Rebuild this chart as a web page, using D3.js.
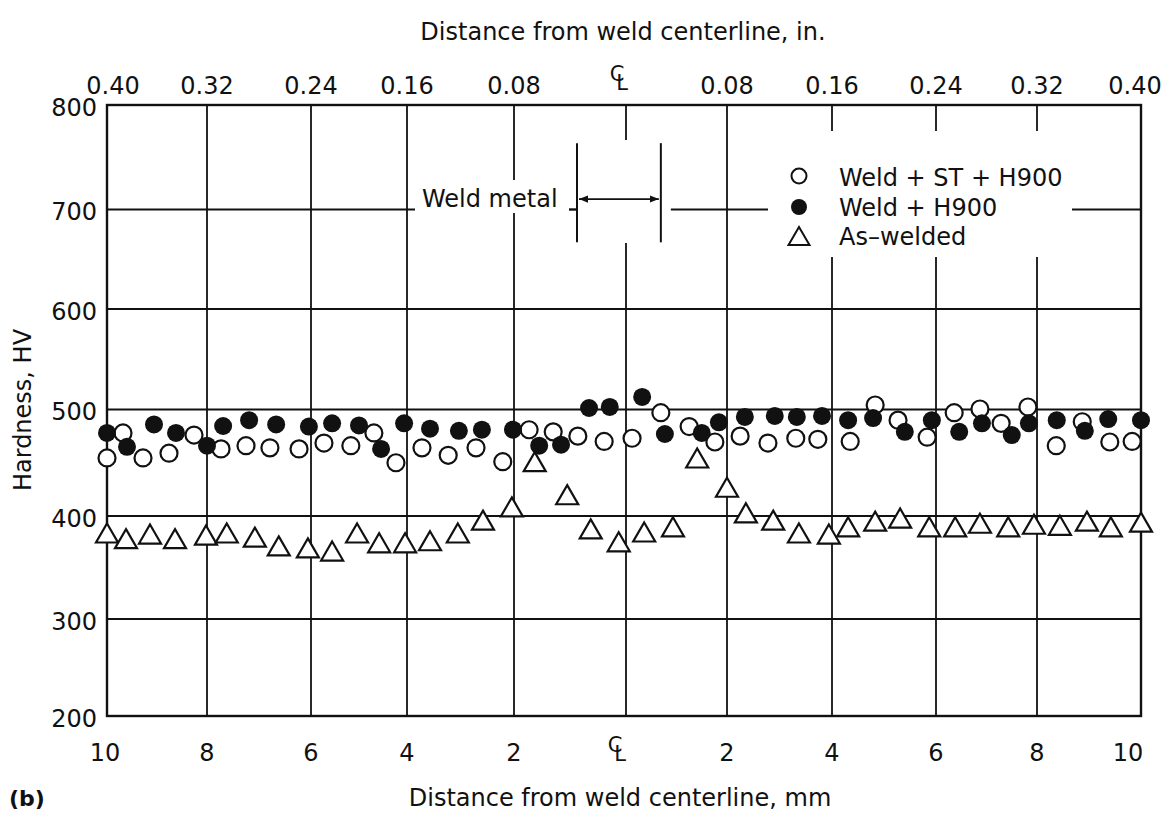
<!DOCTYPE html>
<html><head><meta charset="utf-8">
<script src="https://cdn.jsdelivr.net/npm/d3@7/dist/d3.min.js"></script>
<style>
body{margin:0;background:#fff}
text{font-family:"DejaVu Sans","Liberation Sans",Arial,sans-serif;fill:#111}
</style>
</head><body>
<svg id="c" width="1170" height="813"></svg>
<script>
// ---- data (distance from weld centerline in mm; negative = left side; hardness HV) ----
const stH900X = [-10.0,-9.68,-9.28,-8.76,-8.26,-7.73,-7.25,-6.79,-6.23,-5.73,-5.17,-4.69,-4.23,-3.72,-3.23,-2.71,-2.21,-1.73,-1.3,-0.86,-0.39,0.12,0.69,1.25,1.76,2.25,2.78,3.31,3.73,4.35,4.83,5.27,5.83,6.36,6.87,7.29,7.82,8.37,8.87,9.4,9.83];
const stH900Y = [454.5,478,454.5,459,476,463,466,464,463,468.5,466,478,450,464,457,464,451,481,479,475,470,473,497,484,469.5,475,468.5,473,472,470,504.5,490,474,497,500.5,487,502.5,466,488.5,469.5,470];

const h900X = [-10.0,-9.6,-9.06,-8.62,-8.0,-7.69,-7.19,-6.67,-6.04,-5.56,-5.0,-4.54,-4.06,-3.57,-3.03,-2.6,-2.02,-1.55,-1.16,-0.66,-0.29,0.32,0.77,1.5,1.84,2.34,2.91,3.33,3.81,4.31,4.79,5.4,5.92,6.46,6.91,7.5,7.84,8.38,8.92,9.37,10.0];
const h900Y = [478,465,486,478,466,484.5,490,486,484,487,485,463,487,482,480,481,481,466,467,501.5,502.5,512.5,477,478,488,493,494,493,494,490,492,479,490,479,487,476,487,490,480,491,490];

const asWeldX = [-10.0,-9.62,-9.14,-8.64,-8.02,-7.62,-7.08,-6.62,-6.06,-5.56,-5.04,-4.58,-4.04,-3.57,-3.05,-2.58,-2.04,-1.63,-1.05,-0.63,-0.13,0.36,0.93,1.41,2.0,2.36,2.88,3.37,3.94,4.31,4.83,5.31,5.87,6.38,6.87,7.43,7.94,8.44,8.96,9.42,10.0];
const asWeldY = [383.5,378,382.5,378,381.5,383.5,379.5,371,369,366,383.5,374,374,376,383.5,396,408.5,451,420,387.5,375,384.5,389.5,454.5,427,403,396,383.5,382.5,389.5,395,398,389.5,389.5,393,389.5,392,391,395,389.5,394];

const mmTicks = [-10,-8,-6,-4,-2,0,2,4,6,8,10];
const mmLabels = ["10","8","6","4","2","CL","2","4","6","8","10"];
const inLabels = ["0.40","0.32","0.24","0.16","0.08","CL","0.08","0.16","0.24","0.32","0.40"];
const hvTicks = [200,300,400,500,600,700,800];
const seriesNames = ["Weld + ST + H900","Weld + H900","As\u2013welded"];
const weldMetal = [-0.875, 0.69];

// ---- chart ----
const svg = d3.select("#c");
// the printed grid is hand-drawn and slightly uneven: piecewise-linear scales follow it
const x = d3.scaleLinear().domain(mmTicks).range([107,207,311,407,514,626,727,832,936,1037,1141]);
const y = d3.scaleLinear().domain(hvTicks).range([716,619,516,409.5,309,209.5,105]);
const INK = "#111";
const FS = 24;

// gridlines
svg.append("g").selectAll("line").data(mmTicks.slice(1,-1)).join("line")
  .attr("x1",d=>x(d)).attr("x2",d=>x(d)).attr("y1",y(800)).attr("y2",y(200))
  .attr("stroke",INK).attr("stroke-width",1.8);
svg.append("g").selectAll("line").data(hvTicks.slice(1,-1)).join("line")
  .attr("x1",x(-10)).attr("x2",x(10)).attr("y1",d=>y(d)).attr("y2",d=>y(d))
  .attr("stroke",INK).attr("stroke-width",1.8);

// white gaps (label + annotation + legend areas)
svg.append("rect").attr("x",415).attr("y",180).attr("width",154).attr("height",33).attr("fill","#fff");
svg.append("rect").attr("x",x(weldMetal[0])+1).attr("y",140).attr("width",x(weldMetal[1])-x(weldMetal[0])+9).attr("height",103).attr("fill","#fff");
svg.append("rect").attr("x",768).attr("y",131).attr("width",304).attr("height",126).attr("fill","#fff");

// border
svg.append("rect").attr("x",x(-10)).attr("y",y(800)).attr("width",x(10)-x(-10)).attr("height",y(200)-y(800))
  .attr("fill","none").attr("stroke",INK).attr("stroke-width",2.4);

// y axis labels
svg.append("g").selectAll("text").data(hvTicks).join("text")
  .attr("x",97).attr("y",d=>y(d)+2).attr("dy","0.36em").attr("text-anchor","end")
  .attr("font-size",FS).text(d=>d);
svg.append("text").attr("transform","translate(31,410) rotate(-90)").attr("text-anchor","middle")
  .attr("font-size",FS).text("Hardness, HV");

function clMark(g, cx, cy){
  g.append("text").attr("x",cx-3).attr("y",cy-5).attr("text-anchor","middle").attr("dy","0.36em").attr("font-size",21).text("C");
  g.append("text").attr("x",cx+2).attr("y",cy+4).attr("text-anchor","middle").attr("dy","0.36em").attr("font-size",21).text("L");
}

// bottom labels
const gb = svg.append("g");
mmTicks.forEach((d,i)=>{
  let cx = x(d);
  if (i===mmTicks.length-1) cx -= 13;
  if (i===0) cx -= 2;
  if (mmLabels[i]==="CL") clMark(gb, cx-8, 749);
  else gb.append("text").attr("x",cx).attr("y",752).attr("dy","0.36em")
    .attr("text-anchor","middle").attr("font-size",FS).text(mmLabels[i]);
});
svg.append("text").attr("x",620).attr("y",797).attr("dy","0.36em").attr("text-anchor","middle")
  .attr("font-size",FS).text("Distance from weld centerline, mm");
svg.append("text").attr("x",9).attr("y",798).attr("dy","0.36em").attr("font-size",FS-2)
  .attr("font-weight","bold").text("(b)");

// top labels
const gt = svg.append("g");
mmTicks.forEach((d,i)=>{
  let cx = x(d);
  if (i===0) cx += 6;
  if (i===mmTicks.length-1) cx -= 6;
  if (inLabels[i]==="CL") clMark(gt, cx-6, 78);
  else gt.append("text").attr("x",cx).attr("y",85).attr("dy","0.36em")
    .attr("text-anchor","middle").attr("font-size",FS).text(inLabels[i]);
});
svg.append("text").attr("x",623).attr("y",31).attr("dy","0.36em").attr("text-anchor","middle")
  .attr("font-size",FS).text("Distance from weld centerline, in.");

// weld metal annotation
const ga = svg.append("g");
const defs = svg.append("defs");
defs.append("marker").attr("id","ah").attr("viewBox","0 0 10 10").attr("refX",10).attr("refY",5)
  .attr("markerWidth",5).attr("markerHeight",5).attr("orient","auto-start-reverse")
  .append("path").attr("d","M0,1 L10,5 L0,9 Z").attr("fill",INK);
weldMetal.forEach(d=>{
  ga.append("line").attr("x1",x(d)).attr("x2",x(d)).attr("y1",y(763.5)).attr("y2",y(667))
    .attr("stroke",INK).attr("stroke-width",2);
});
ga.append("line").attr("x1",x(weldMetal[0])-8).attr("x2",x(weldMetal[0])).attr("y1",y(700)).attr("y2",y(700))
  .attr("stroke",INK).attr("stroke-width",1.8);
ga.append("line").attr("x1",x(weldMetal[0])+2).attr("x2",x(weldMetal[1])-2).attr("y1",y(710)).attr("y2",y(710))
  .attr("stroke",INK).attr("stroke-width",1.8).attr("marker-start","url(#ah)").attr("marker-end","url(#ah)");
ga.append("text").attr("x",422).attr("y",198).attr("dy","0.36em").attr("font-size",FS).text("Weld metal");

// markers
const R = 8.5;
const triPath = (s)=>{ const h=s*0.866; return `M0,${-h/2}L${s/2},${h/2}L${-s/2},${h/2}Z`; };
const gp = svg.append("g");
gp.selectAll("path").data(d3.zip(asWeldX, asWeldY)).join("path")
  .attr("transform",d=>`translate(${x(d[0])},${y(d[1])})`).attr("d",triPath(22))
  .attr("fill","#fff").attr("stroke",INK).attr("stroke-width",2.2);
gp.append("g").selectAll("circle").data(d3.zip(stH900X, stH900Y)).join("circle")
  .attr("cx",d=>x(d[0])).attr("cy",d=>y(d[1])).attr("r",R)
  .attr("fill","#fff").attr("stroke",INK).attr("stroke-width",2.2);
gp.append("g").selectAll("circle").data(d3.zip(h900X, h900Y)).join("circle")
  .attr("cx",d=>x(d[0])).attr("cy",d=>y(d[1])).attr("r",R+0.5).attr("fill",INK);

// legend
const gl = svg.append("g");
const ly = [177,207,236];
gl.append("circle").attr("cx",799).attr("cy",ly[0]-1).attr("r",7.5).attr("fill","#fff").attr("stroke",INK).attr("stroke-width",2);
gl.append("circle").attr("cx",799).attr("cy",ly[1]).attr("r",8).attr("fill",INK);
gl.append("path").attr("transform",`translate(799,${ly[2]})`).attr("d",triPath(21)).attr("fill","#fff").attr("stroke",INK).attr("stroke-width",2);
seriesNames.forEach((s,i)=>{
  gl.append("text").attr("x",839).attr("y",ly[i]).attr("dy","0.36em").attr("font-size",FS).text(s);
});
</script>
</body></html>
